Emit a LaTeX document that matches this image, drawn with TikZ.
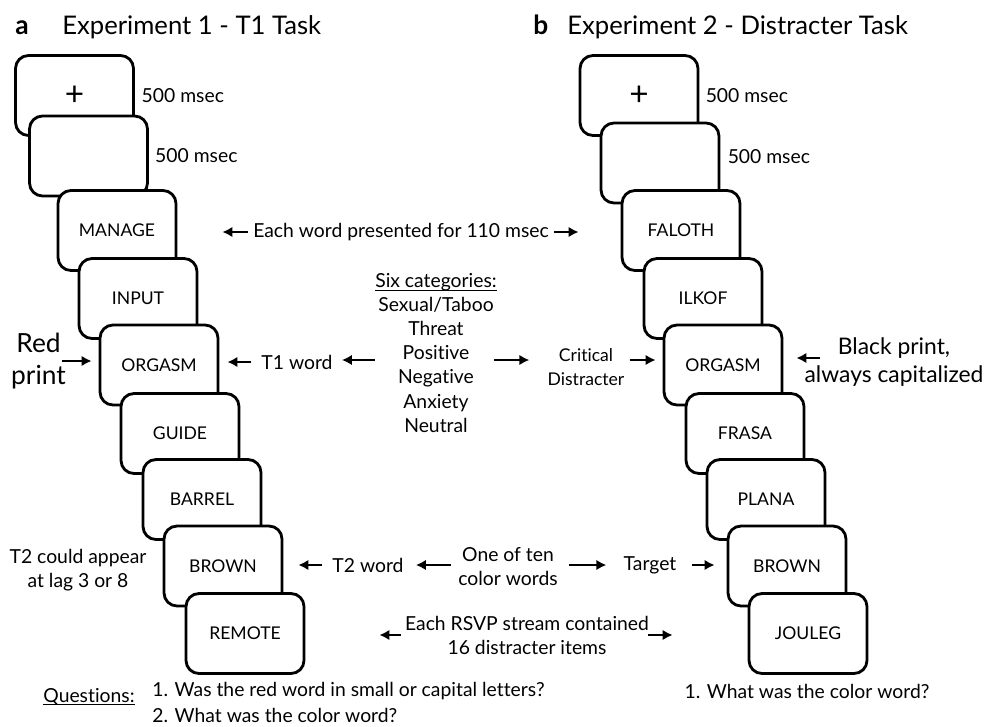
\documentclass[tikz,border=0pt]{standalone}
\usepackage{fontspec}
\setmainfont{Lato}[Ligatures=NoCommon]
\usetikzlibrary{arrows.meta,positioning,calc}
\tikzset{
  wordbox/.style={draw=black,line width=1.6pt,rounded corners=2.6mm,fill=white,minimum width=2.36cm,minimum height=1.6cm,inner sep=0pt,font=\fontsize{10}{12}\selectfont},
  note/.style={inner sep=0pt,align=center,font=\fontsize{11}{13.7}\selectfont},
  smallnote/.style={inner sep=0pt,align=center,font=\fontsize{10}{14}\selectfont},
  bignote/.style={inner sep=0pt,align=center,font=\fontsize{13}{16.4}\selectfont},
  heading/.style={inner sep=0pt,anchor=base west,font=\fontsize{14.6}{16}\selectfont},
  timearrow/.style={-{Latex[length=2mm,width=2.1mm]},line width=1.4pt}
}
\newcommand{\plusmark}{{\fontsize{19}{19}\selectfont +}}
\newcommand{\ulsmash}[1]{\underline{\smash{#1}}}

\begin{document}
\begin{tikzpicture}[x=0.02cm,y=-0.02cm]
\useasboundingbox (0,0) rectangle (989,726);
% headings
\node[heading,font=\fontsize{15}{16}\bfseries] (hA) at (15,35) {a};
\node[heading] (hAtxt) at (62,35) {Experiment 1 - T1 Task};
\node[heading,font=\fontsize{15}{16}\bfseries] (hB) at (533,35) {b};
\node[heading] (hBtxt) at (567,35) {Experiment 2 - Distracter Task};
% T1 task stream
\node[wordbox] (L1) at (74.5,95.5) {\plusmark};
\node[wordbox] (L2) at (88.5,156) {};
\node[wordbox] (L3) at (117,230.5) {MANAGE};
\node[wordbox] (L4) at (138,298.5) {INPUT};
\node[wordbox] (L5) at (159,365) {ORGASM};
\node[wordbox] (L6) at (180,433.5) {GUIDE};
\node[wordbox] (L7) at (202,499.5) {BARREL};
\node[wordbox] (L8) at (223,566) {BROWN};
\node[wordbox] (L9) at (245,633.5) {REMOTE};
% distracter task stream
\node[wordbox] (R1) at (639,95.5) {\plusmark};
\node[wordbox] (R2) at (660,163) {};
\node[wordbox] (R3) at (681,230.5) {FALOTH};
\node[wordbox] (R4) at (703,298.5) {ILKOF};
\node[wordbox] (R5) at (723,365) {ORGASM};
\node[wordbox] (R6) at (745,433.5) {FRASA};
\node[wordbox] (R7) at (766,499.5) {PLANA};
\node[wordbox] (R8) at (787,566) {BROWN};
\node[wordbox] (R9) at (808,633.5) {JOULEG};
% durations
\node[note,right=1.3mm of L1] (fixL) {500 msec};
\node[note,right=1.2mm of L2] (blankL) {500 msec};
\node[note,right=1.2mm of R1] (fixR) {500 msec};
\node[note,right=1.4mm of R2,yshift=1.2mm] (blankR) {500 msec};
\node[note] (dur) at (401,232) {Each word presented for 110 msec};
% T1 / critical distracter
\node[note] (cats) at (436,360) {\ulsmash{Six categories:}\\Sexual/Taboo\\Threat\\Positive\\Negative\\Anxiety\\Neutral};
\node[note] (t1w) at (297,362) {T1 word};
\node[smallnote] (crit) at (586,367) {Critical\\Distracter};
\node[bignote,font=\fontsize{15}{18.7}\selectfont] (red) at (38.5,361) {Red\\print};
\node[bignote] (blk) at (894,362) {Black print,\\always capitalized};
\coordinate (blkarr) at (820,358);
% T2 / target
\node[note] (lag) at (78,570) {T2 could appear\\at lag 3 or 8};
\node[note] (t2w) at (368,565) {T2 word};
\node[note] (ten) at (508,567) {One of ten\\color words};
\node[note] (tgt) at (650,565) {Target};
\node[note] (rsvp) at (527,635) {Each RSVP stream contained\\16 distracter items};
% questions
\node[note] (ques) at (89,704) {\ulsmash{Questions:}};
\node[note,anchor=west] (q1) at (152,691) {1. Was the red word in small or capital letters?};
\node[note,anchor=west] (q2) at (152,715) {2. What was the color word?};
\node[note] (q3) at (807,691) {1. What was the color word?};
% arrows
\draw[timearrow,shorten <=1mm,shorten >=9mm] (dur.west) -- (dur.west -| L3.east);
\draw[timearrow,shorten <=1mm,shorten >=8.4mm] (dur.east) -- (dur.east -| R3.west);
\draw[timearrow,shorten <=2mm,shorten >=1.6mm] (t1w.west) -- (t1w.west -| L5.east);
\draw[timearrow,shorten <=0mm,shorten >=1.8mm] (cats.west) -- (cats.west -| t1w.east);
\draw[timearrow,shorten <=-0.6mm,shorten >=3.6mm] (cats.east) -- (crit.west |- cats.east);
\draw[timearrow,shorten <=1mm,shorten >=1.4mm] (crit.east |- cats.east) -- (cats.east -| R5.west);
\draw[timearrow,shorten >=2.6mm] (blkarr) -- (blkarr -| R5.east);
\draw[timearrow,shorten <=-0.8mm,shorten >=1.4mm] (red.east) -- (red.east -| L5.west);
\draw[timearrow,shorten <=2mm,shorten >=3mm] (t2w.west) -- (t2w.west -| L8.east);
\draw[timearrow,shorten <=1.4mm,shorten >=2.4mm] (ten.west |- t2w) -- (t2w.east);
\draw[timearrow,shorten <=2.2mm,shorten >=3.4mm] (ten.east |- tgt) -- (tgt.west);
\draw[timearrow,shorten <=3mm,shorten >=2.4mm] (tgt.east) -- (tgt.east -| R8.west);
\draw[timearrow,shorten <=0.8mm,shorten >=14.8mm] (rsvp.west) -- (rsvp.west -| L9.east);
\draw[timearrow,shorten <=-0.2mm,shorten >=15mm] (rsvp.east) -- (rsvp.east -| R9.west);
\end{tikzpicture}
\end{document}
